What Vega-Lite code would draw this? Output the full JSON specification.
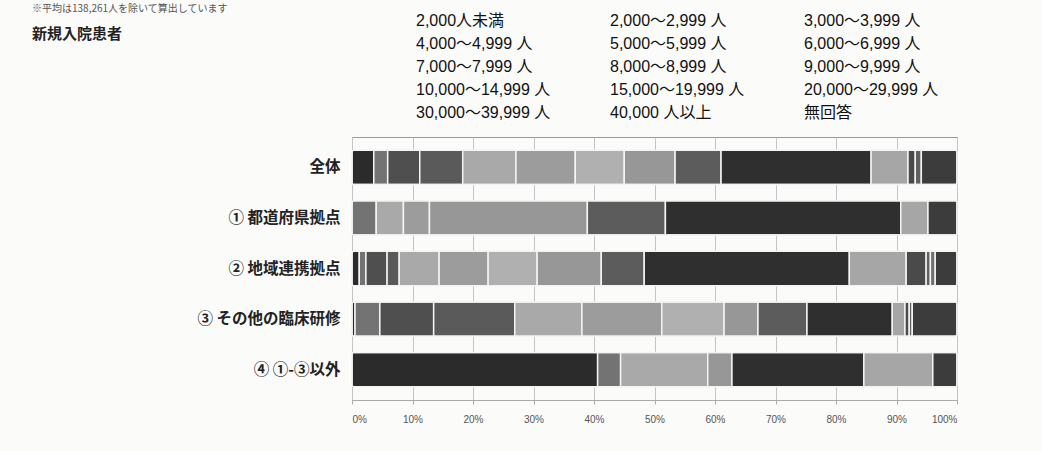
{
  "$schema": "https://vega.github.io/schema/vega-lite/v6.json",
  "width": 605,
  "height": 263,
  "autosize": {"type": "none"},
  "padding": {"left": 352, "top": 137, "right": 85, "bottom": 51},
  "background": "#fbfbfa",
  "title": {
    "text": "※平均は138,261人を除いて算出しています",
    "subtitle": "新規入院患者",
    "anchor": "start",
    "frame": "group",
    "orient": "top",
    "dx": -320,
    "offset": -29,
    "fontSize": 10,
    "fontWeight": "normal",
    "color": "#555555",
    "font": "Noto Sans CJK JP",
    "subtitleFont": "Noto Sans CJK JP",
    "subtitleFontSize": 15,
    "subtitleFontWeight": "bold",
    "subtitleColor": "#222222",
    "subtitlePadding": 13
  },
  "data": {
    "values": [
      {"g": "全体", "c": "2,000人未満", "k": 1, "v": 3.6},
      {"g": "全体", "c": "2,000～2,999 人", "k": 2, "v": 2.3},
      {"g": "全体", "c": "3,000～3,999 人", "k": 3, "v": 5.3},
      {"g": "全体", "c": "4,000～4,999 人", "k": 4, "v": 7.1},
      {"g": "全体", "c": "5,000～5,999 人", "k": 5, "v": 8.8},
      {"g": "全体", "c": "6,000～6,999 人", "k": 6, "v": 9.8},
      {"g": "全体", "c": "7,000～7,999 人", "k": 7, "v": 8.1},
      {"g": "全体", "c": "8,000～8,999 人", "k": 8, "v": 8.4},
      {"g": "全体", "c": "9,000～9,999 人", "k": 9, "v": 7.6},
      {"g": "全体", "c": "10,000～14,999 人", "k": 10, "v": 24.8},
      {"g": "全体", "c": "15,000～19,999 人", "k": 11, "v": 6.1},
      {"g": "全体", "c": "20,000～29,999 人", "k": 12, "v": 1.2},
      {"g": "全体", "c": "30,000～39,999 人", "k": 13, "v": 1.0},
      {"g": "全体", "c": "無回答", "k": 15, "v": 5.9},

      {"g": "① 都道府県拠点", "c": "2,000～2,999 人", "k": 2, "v": 4.0},
      {"g": "① 都道府県拠点", "c": "5,000～5,999 人", "k": 5, "v": 4.5},
      {"g": "① 都道府県拠点", "c": "6,000～6,999 人", "k": 6, "v": 4.3},
      {"g": "① 都道府県拠点", "c": "8,000～8,999 人", "k": 8, "v": 26.1},
      {"g": "① 都道府県拠点", "c": "9,000～9,999 人", "k": 9, "v": 12.9},
      {"g": "① 都道府県拠点", "c": "10,000～14,999 人", "k": 10, "v": 38.9},
      {"g": "① 都道府県拠点", "c": "15,000～19,999 人", "k": 11, "v": 4.5},
      {"g": "① 都道府県拠点", "c": "無回答", "k": 15, "v": 4.8},

      {"g": "② 地域連携拠点", "c": "2,000人未満", "k": 1, "v": 1.2},
      {"g": "② 地域連携拠点", "c": "2,000～2,999 人", "k": 2, "v": 1.1},
      {"g": "② 地域連携拠点", "c": "3,000～3,999 人", "k": 3, "v": 3.5},
      {"g": "② 地域連携拠点", "c": "4,000～4,999 人", "k": 4, "v": 2.0},
      {"g": "② 地域連携拠点", "c": "5,000～5,999 人", "k": 5, "v": 6.6},
      {"g": "② 地域連携拠点", "c": "6,000～6,999 人", "k": 6, "v": 8.1},
      {"g": "② 地域連携拠点", "c": "7,000～7,999 人", "k": 7, "v": 8.1},
      {"g": "② 地域連携拠点", "c": "8,000～8,999 人", "k": 8, "v": 10.6},
      {"g": "② 地域連携拠点", "c": "9,000～9,999 人", "k": 9, "v": 7.1},
      {"g": "② 地域連携拠点", "c": "10,000～14,999 人", "k": 10, "v": 33.9},
      {"g": "② 地域連携拠点", "c": "15,000～19,999 人", "k": 11, "v": 9.4},
      {"g": "② 地域連携拠点", "c": "20,000～29,999 人", "k": 12, "v": 3.3},
      {"g": "② 地域連携拠点", "c": "30,000～39,999 人", "k": 13, "v": 0.7},
      {"g": "② 地域連携拠点", "c": "40,000 人以上", "k": 14, "v": 0.8},
      {"g": "② 地域連携拠点", "c": "無回答", "k": 15, "v": 3.6},

      {"g": "③ その他の臨床研修", "c": "2,000人未満", "k": 1, "v": 0.5},
      {"g": "③ その他の臨床研修", "c": "2,000～2,999 人", "k": 2, "v": 4.1},
      {"g": "③ その他の臨床研修", "c": "3,000～3,999 人", "k": 3, "v": 8.9},
      {"g": "③ その他の臨床研修", "c": "4,000～4,999 人", "k": 4, "v": 13.4},
      {"g": "③ その他の臨床研修", "c": "5,000～5,999 人", "k": 5, "v": 11.1},
      {"g": "③ その他の臨床研修", "c": "6,000～6,999 人", "k": 6, "v": 13.2},
      {"g": "③ その他の臨床研修", "c": "7,000～7,999 人", "k": 7, "v": 10.3},
      {"g": "③ その他の臨床研修", "c": "8,000～8,999 人", "k": 8, "v": 5.6},
      {"g": "③ その他の臨床研修", "c": "9,000～9,999 人", "k": 9, "v": 8.1},
      {"g": "③ その他の臨床研修", "c": "10,000～14,999 人", "k": 10, "v": 14.1},
      {"g": "③ その他の臨床研修", "c": "15,000～19,999 人", "k": 11, "v": 2.1},
      {"g": "③ その他の臨床研修", "c": "20,000～29,999 人", "k": 12, "v": 0.7},
      {"g": "③ その他の臨床研修", "c": "30,000～39,999 人", "k": 13, "v": 0.5},
      {"g": "③ その他の臨床研修", "c": "無回答", "k": 15, "v": 7.4},

      {"g": "④ ①-③以外", "c": "2,000人未満", "k": 1, "v": 40.6},
      {"g": "④ ①-③以外", "c": "2,000～2,999 人", "k": 2, "v": 3.8},
      {"g": "④ ①-③以外", "c": "5,000～5,999 人", "k": 5, "v": 14.4},
      {"g": "④ ①-③以外", "c": "8,000～8,999 人", "k": 8, "v": 4.0},
      {"g": "④ ①-③以外", "c": "10,000～14,999 人", "k": 10, "v": 21.8},
      {"g": "④ ①-③以外", "c": "15,000～19,999 人", "k": 11, "v": 11.4},
      {"g": "④ ①-③以外", "c": "無回答", "k": 15, "v": 4.0}
    ]
  },
  "mark": {"type": "bar", "stroke": "#f4f4f4", "strokeWidth": 1.5, "cornerRadius": 2},
  "encoding": {
    "y": {
      "field": "g",
      "type": "nominal",
      "sort": ["全体", "① 都道府県拠点", "② 地域連携拠点", "③ その他の臨床研修", "④ ①-③以外"],
      "scale": {"paddingInner": 0.32, "paddingOuter": 0.26},
      "axis": {
        "title": null,
        "domain": false,
        "ticks": false,
        "labelPadding": 12,
        "labelFont": "Noto Sans CJK JP",
        "labelFontSize": 15.5,
        "labelFontWeight": "bold",
        "labelColor": "#222222"
      }
    },
    "x": {
      "field": "v",
      "type": "quantitative",
      "stack": "normalize",
      "scale": {"domain": [0, 1]},
      "axis": {
        "title": null,
        "format": ".0%",
        "values": [0, 0.1, 0.2, 0.3, 0.4, 0.5, 0.6, 0.7, 0.8, 0.9, 1],
        "grid": true,
        "gridColor": "#c4c4c4",
        "domainColor": "#aaaaaa",
        "tickColor": "#aaaaaa",
        "tickSize": 4,
        "labelPadding": 10,
        "labelFont": "Liberation Sans",
        "labelFontSize": 10,
        "labelColor": "#555555"
      }
    },
    "order": {"field": "k", "type": "quantitative", "sort": "ascending"},
    "color": {
      "field": "c",
      "type": "nominal",
      "sort": ["2,000人未満", "2,000～2,999 人", "3,000～3,999 人", "4,000～4,999 人", "5,000～5,999 人", "6,000～6,999 人", "7,000～7,999 人", "8,000～8,999 人", "9,000～9,999 人", "10,000～14,999 人", "15,000～19,999 人", "20,000～29,999 人", "30,000～39,999 人", "40,000 人以上", "無回答"],
      "scale": {
        "domain": ["2,000人未満", "2,000～2,999 人", "3,000～3,999 人", "4,000～4,999 人", "5,000～5,999 人", "6,000～6,999 人", "7,000～7,999 人", "8,000～8,999 人", "9,000～9,999 人", "10,000～14,999 人", "15,000～19,999 人", "20,000～29,999 人", "30,000～39,999 人", "40,000 人以上", "無回答"],
        "range": ["#2b2b2b", "#737373", "#4f4f4f", "#5a5a5a", "#a9a9a9", "#9c9c9c", "#b0b0b0", "#979797", "#5c5c5c", "#2f2f2f", "#a6a6a6", "#4a4a4a", "#606060", "#707070", "#3c3c3c"]
      },
      "legend": {
        "title": null,
        "orient": "none",
        "legendX": 48,
        "legendY": -124,
        "columns": 3,
        "direction": "horizontal",
        "symbolSize": 0,
        "symbolStrokeWidth": 0,
        "symbolOpacity": 0,
        "labelOffset": 0,
        "columnPadding": 43,
        "rowPadding": 7,
        "labelFont": "Liberation Sans, Noto Sans CJK JP",
        "labelFontSize": 16,
        "labelColor": "#111111",
        "labelLimit": 220
      }
    }
  },
  "config": {
    "view": {"stroke": "#999999", "strokeWidth": 1},
    "font": "Noto Sans CJK JP"
  }
}
